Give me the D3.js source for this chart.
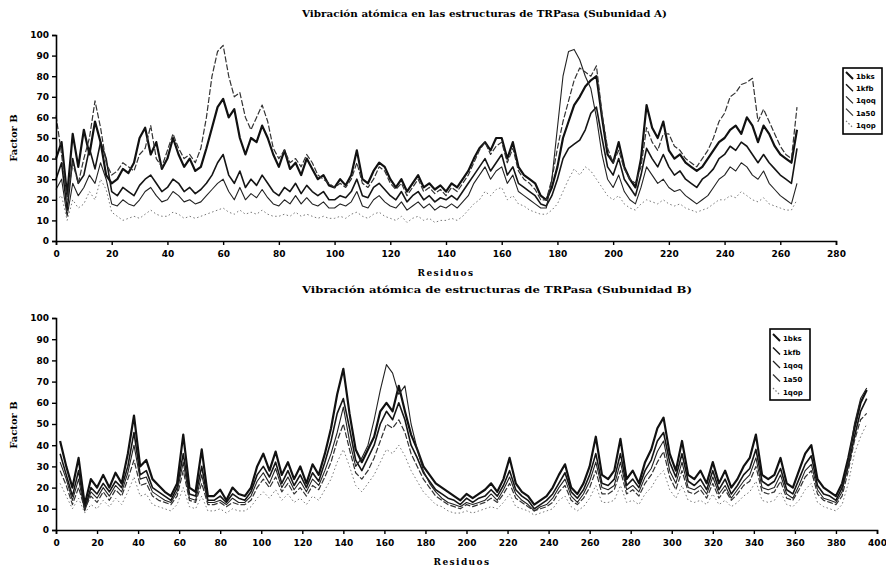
<!DOCTYPE html>
<html><head><meta charset="utf-8">
<script src="https://cdn.jsdelivr.net/npm/d3@7/dist/d3.min.js"></script>
<style>body{margin:0;background:#fff}svg{display:block}</style>
</head><body>
<svg id="c" width="886" height="568"></svg>
<script>
// ---------- DATA ----------
const legendNames = ["1bks", "1kfb", "1qoq", "1a50", "1qop"];
const yTicks = [0, 10, 20, 30, 40, 50, 60, 70, 80, 90, 100];
const xTicksA = [0, 20, 40, 60, 80, 100, 120, 140, 160, 180, 200, 220, 240, 260, 280];
const xTicksB = [0, 20, 40, 60, 80, 100, 120, 140, 160, 180, 200, 220, 240, 260, 280, 300, 320, 340, 360, 380, 400];
const titleA = "Vibración atómica en las estructuras de TRPasa (Subunidad A)";
const titleB = "Vibración atómica de estructuras de TRPasa (Subunidad B)";

// Subunit A: residues 0,2,4,...,266
const startA = 0, stepA = 2;
const a_1bks = [40,48,22,52,36,54,42,58,48,32, 28,30,35,33,38,50,55,42,48,35, 40,50,42,36,40,34,36,45,55,65,
  69,60,64,50,42,50,48,56,50,42, 36,44,35,38,32,40,35,30,32,27, 26,30,27,32,44,30,28,34,38,36,
  30,26,30,24,28,32,26,28,25,27, 24,28,26,30,34,40,45,48,44,50, 50,40,48,36,32,30,28,22,20,26,
  36,50,58,66,70,75,78,80,60,42, 38,48,36,30,26,40,66,55,50,58, 44,40,42,38,36,34,36,40,44,48,
  50,54,56,52,60,56,48,56,52,46, 42,40,38,54];
const a_1kfb = [30,38,15,40,28,32,45,35,48,40, 24,22,26,24,22,27,30,32,28,24, 26,30,28,24,26,23,25,28,32,38,
  42,32,28,34,26,30,27,32,28,24, 22,26,24,28,23,27,24,22,24,20, 20,22,21,24,30,22,21,26,28,25,
  22,20,24,19,22,24,20,22,19,21, 20,22,20,24,28,32,36,40,34,38, 42,32,36,28,26,24,22,18,17,22,
  30,40,45,47,49,54,62,65,50,36, 32,40,30,26,22,32,45,40,36,42, 36,32,34,30,28,26,30,32,35,40,
  42,46,44,48,46,42,38,42,38,35, 32,30,28,45];
const a_1qoq = [25,30,12,28,22,26,32,28,38,30, 18,17,20,18,17,20,24,26,22,19, 20,24,22,19,20,18,19,22,25,28,
  30,24,20,26,20,23,21,25,21,18, 17,20,18,22,18,21,18,17,19,16, 16,18,17,19,24,17,16,20,22,19,
  17,16,19,15,17,19,16,18,15,17, 16,18,16,19,22,28,32,36,30,34, 36,28,32,24,22,20,18,16,16,30,
  55,80,92,93,88,80,74,60,42,30, 26,32,24,20,18,26,36,32,28,30, 26,24,25,22,20,18,20,22,26,30,
  32,36,34,38,36,32,30,34,28,25, 22,20,18,28];
const a_1a50 = [61,42,20,38,28,40,50,68,55,38, 32,34,38,36,34,42,45,56,40,36, 44,52,45,40,42,38,45,60,80,92,
  95,80,70,72,60,54,60,66,58,45, 40,44,38,40,36,42,38,32,30,28, 26,28,26,30,38,28,26,30,36,34,
  28,25,28,22,26,30,24,26,23,25, 22,26,24,28,32,38,44,48,42,46, 48,38,45,34,30,28,25,20,20,30,
  45,58,68,78,84,82,80,85,62,45, 38,44,35,30,28,36,55,48,44,52, 52,46,44,40,38,36,40,44,50,58,
  62,70,72,76,77,79,58,64,58,52, 46,42,40,65];
const a_1qop = [20,22,10,20,16,18,24,20,30,25, 14,12,10,11,12,11,13,15,13,12, 12,14,13,11,12,11,12,13,14,15,
  16,14,13,15,13,14,13,15,13,12, 12,13,12,14,12,13,12,11,12,11, 11,12,11,13,14,12,11,13,14,12,
  11,10,12,9,11,12,10,11,9,10, 10,11,10,12,15,18,20,24,22,25, 26,20,22,18,17,15,14,13,13,15,
  18,24,30,35,32,36,34,30,26,22, 20,22,18,16,15,18,20,19,18,20, 18,17,18,16,15,14,15,16,18,20,
  20,22,21,24,22,20,19,21,18,17, 16,15,15,20];

// Subunit B: residues 2,5,8,...,395
const startB = 2, stepB = 3;
const b_1bks = [42,30,20,34,12,24,20,26,20,27, 22,36,54,30,33,24,21,18,16,22, 45,20,18,38,16,16,19,14,20,17,
  16,20,30,36,28,37,26,32,24,30, 22,31,26,36,48,64,76,55,38,32, 38,44,56,60,56,68,56,45,38,30,
  26,22,20,18,16,14,17,15,17,19, 22,18,24,34,22,18,16,12,14,16, 20,26,31,20,17,22,30,44,26,24,
  28,43,24,28,22,32,38,48,53,36, 28,42,26,24,28,22,32,22,28,20, 24,30,34,45,26,24,26,34,22,20,
  28,36,40,24,20,18,16,22,34,48, 60,66];
const b_1kfb = [36,26,16,28,10,20,17,22,18,23, 20,30,46,26,28,20,18,16,14,20, 36,17,16,30,14,14,16,13,17,15,
  14,18,26,30,25,32,22,28,21,26, 20,27,23,32,42,55,62,48,33,28, 34,40,50,56,52,60,52,40,34,27,
  23,19,17,15,14,12,15,13,15,16, 19,16,21,28,19,16,14,10,12,14, 17,22,27,18,15,19,26,36,22,21,
  24,36,21,24,20,28,33,42,46,32, 25,36,23,21,24,19,28,19,24,17, 21,26,29,38,23,21,23,29,19,17,
  24,31,35,21,17,16,14,20,30,44, 56,62];
const b_1qoq = [32,24,14,24,9,18,15,20,16,21, 18,27,40,24,25,18,16,14,13,18, 32,15,14,26,13,13,14,12,15,13,
  13,16,23,27,22,29,20,25,19,23, 18,24,21,28,36,46,58,42,30,34, 40,52,66,78,74,64,68,50,38,28,
  22,18,15,13,12,11,13,12,13,14, 17,14,19,25,17,14,12,9,11,12, 15,20,24,16,13,17,23,32,20,19,
  21,32,19,21,18,25,29,37,42,28, 22,32,20,19,21,17,25,17,21,15, 19,23,26,34,20,19,20,26,17,15,
  21,28,31,19,15,14,13,18,32,50, 62,67];
const b_1a50 = [28,21,12,20,10,16,13,18,14,19, 16,24,33,21,22,16,14,13,12,16, 28,14,13,22,12,12,13,11,13,12,
  12,14,20,24,20,25,18,22,17,20, 16,21,19,25,32,42,50,38,27,24, 28,34,42,50,48,52,46,36,30,24,
  20,16,14,12,11,10,12,11,12,13, 15,13,17,22,15,13,11,9,10,11, 13,18,21,14,12,15,20,28,17,17,
  19,28,17,19,16,22,26,32,37,25, 19,28,18,17,19,15,22,15,19,14, 17,21,23,30,18,17,18,23,15,14,
  19,25,28,17,14,13,12,16,28,42, 52,55];
const b_1qop = [22,16,10,15,8,12,10,14,11,15, 12,18,25,16,17,12,11,10,9,12, 20,11,10,16,9,9,10,8,10,9,
  9,11,15,18,15,19,14,17,13,15, 12,16,14,19,24,32,38,30,21,18, 22,26,32,38,36,40,35,28,23,18,
  15,12,11,9,8,8,9,8,9,10, 11,10,13,17,11,10,9,7,8,9, 10,14,16,11,9,11,15,21,13,13,
  14,21,13,14,12,17,20,25,28,19, 15,21,14,13,14,12,17,12,14,11, 13,16,18,23,14,13,14,18,12,11,
  14,19,22,13,11,10,9,12,22,36, 44,50];

// ---------- STYLE ----------
const styles = [
  {w: 2.2, c: "#111", d: null},
  {w: 1.6, c: "#151515", d: null},
  {w: 1.1, c: "#222", d: null},
  {w: 1.2, c: "#333", d: "6,2"},
  {w: 1.0, c: "#777", d: "1.5,2.5"}
];
const FONT = "'DejaVu Sans', sans-serif";
const SERIF = "'DejaVu Serif', serif";

const svg = d3.select("#c");

function panel(cfg) {
  const x = d3.scaleLinear().domain(cfg.xDomain).range(cfg.xRange);
  const y = d3.scaleLinear().domain([0, 100]).range(cfg.yRange);
  const g = svg.append("g");

  g.append("text").attr("x", cfg.titleX).attr("y", cfg.titleY)
    .attr("font-family", SERIF).attr("font-weight", "900").attr("font-size", 9)
    .attr("textLength", cfg.titleW).attr("lengthAdjust", "spacingAndGlyphs")
    .text(cfg.title);

  const line = d3.line().x((d, i) => x(cfg.start + i * cfg.step)).y(d => y(d));
  cfg.series.forEach((s, k) => {
    const st = styles[k];
    g.append("path").datum(s).attr("d", line)
      .attr("fill", "none").attr("stroke", st.c).attr("stroke-width", st.w)
      .attr("stroke-linejoin", "round")
      .attr("stroke-dasharray", st.d);
  });

  const ya = g.append("g").attr("transform", `translate(${cfg.xRange[0]},0)`)
    .call(d3.axisLeft(y).tickValues(yTicks).tickSize(4).tickPadding(3));
  const xa = g.append("g").attr("transform", `translate(0,${cfg.yRange[0]})`)
    .call(d3.axisBottom(x).tickValues(cfg.xTicks).tickSize(4).tickPadding(6));
  [ya, xa].forEach(a => {
    a.select(".domain").attr("stroke", "#000").attr("stroke-width", 1.6);
    a.selectAll(".tick line").attr("stroke", "#000").attr("stroke-width", 1.4);
    a.selectAll("text").attr("font-family", FONT).attr("font-weight", "bold")
      .attr("font-size", 9).attr("fill", "#000");
  });

  g.append("text").attr("transform", `translate(${cfg.yLabX},${cfg.yLabY}) rotate(-90)`)
    .attr("text-anchor", "middle").attr("font-family", SERIF).attr("font-weight", "bold")
    .attr("font-size", 10).text("Factor B");
  g.append("text").attr("x", cfg.xLabX).attr("y", cfg.xLabY)
    .attr("text-anchor", "middle").attr("font-family", SERIF).attr("font-weight", "bold")
    .attr("font-size", 9).attr("letter-spacing", 1.4).text("Residuos");

  const L = cfg.legend;
  const lg = g.append("g").attr("transform", `translate(${L.x},${L.y})`);
  lg.append("rect").attr("width", L.w).attr("height", L.h)
    .attr("fill", "#fff").attr("stroke", "#000").attr("stroke-width", 1.6);
  legendNames.forEach((n, k) => {
    const st = styles[k];
    const cy = L.pad + k * L.gap;
    lg.append("line").attr("x1", 3).attr("y1", cy - 4).attr("x2", 10).attr("y2", cy + 3)
      .attr("stroke", st.c).attr("stroke-width", Math.max(1.2, st.w * 0.9))
      .attr("stroke-dasharray", k === 4 ? "1.5,2" : null);
    lg.append("text").attr("x", 13).attr("y", cy + 3)
      .attr("font-family", FONT).attr("font-weight", "bold").attr("font-size", 7)
      .text(n);
  });
}

panel({
  title: titleA, titleX: 302, titleY: 17, titleW: 365,
  xDomain: [0, 280], xRange: [56, 836], yRange: [241, 35], xTicks: xTicksA,
  start: startA, step: stepA,
  series: [a_1bks, a_1kfb, a_1qoq, a_1a50, a_1qop],
  yLabX: 17, yLabY: 138, xLabX: 446, xLabY: 276,
  legend: {x: 843, y: 68, w: 39, h: 66, pad: 8, gap: 12.2}
});
panel({
  title: titleB, titleX: 302, titleY: 293, titleW: 390,
  xDomain: [0, 400], xRange: [56, 877], yRange: [530, 318], xTicks: xTicksB,
  start: startB, step: stepB,
  series: [b_1bks, b_1kfb, b_1qoq, b_1a50, b_1qop],
  yLabX: 17, yLabY: 425, xLabX: 462, xLabY: 565,
  legend: {x: 770, y: 329, w: 40, h: 71, pad: 9, gap: 13.5}
});
</script>
</body></html>
